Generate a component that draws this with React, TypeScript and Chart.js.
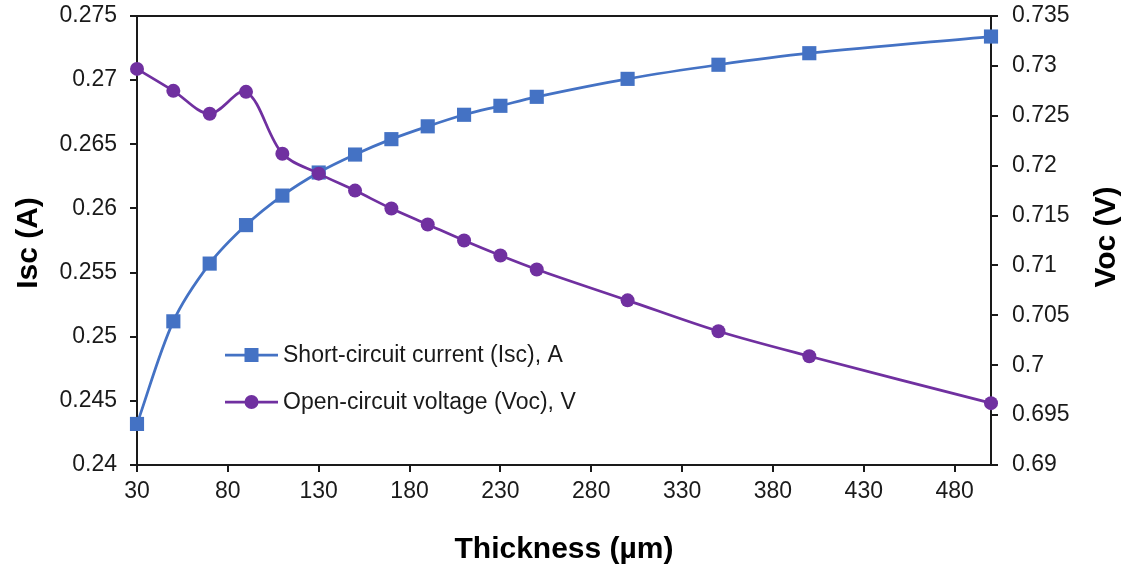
import React, { useEffect, useRef } from 'react';
import { Chart, registerables } from 'chart.js';

Chart.register(...registerables);

// ---- data ----
const thickness = [30, 50, 70, 90, 110, 130, 150, 170, 190, 210, 230, 250, 300, 350, 400, 500];
const iscValues = [0.2432, 0.2512, 0.2557, 0.2587, 0.2610, 0.2628, 0.2642, 0.2654, 0.2664, 0.2673, 0.2680, 0.2687, 0.2701, 0.2712, 0.2721, 0.2734];
const vocValues = [0.7297, 0.7275, 0.7252, 0.7274, 0.7212, 0.7192, 0.7175, 0.7157, 0.7141, 0.7125, 0.7110, 0.7096, 0.7065, 0.7034, 0.7009, 0.6962];

const xTicks = [30, 80, 130, 180, 230, 280, 330, 380, 430, 480];
const iscTicks = [0.24, 0.245, 0.25, 0.255, 0.26, 0.265, 0.27, 0.275];
const vocTicks = [0.69, 0.695, 0.7, 0.705, 0.71, 0.715, 0.72, 0.725, 0.73, 0.735];

const iscLabel = 'Short-circuit current (Isc), A';
const vocLabel = 'Open-circuit voltage (Voc), V';
const xTitle = 'Thickness (µm)';
const yLeftTitle = 'Isc (A)';
const yRightTitle = 'Voc (V)';

// ---- style ----
const FONT = '"Liberation Sans", Arial, Helvetica, sans-serif';
const AXIS = '#1a1a1a';
const TEXT = '#1a1a1a';
const BLUE = '#4472C4';
const PURPLE = '#7030A0';

const fmt = (v: number) => String(+Number(v).toFixed(4));

const decorPlugin = {
  id: 'decor',
  afterDraw(chart: any) {
    const { ctx, chartArea: a } = chart;
    ctx.save();
    // top frame line
    ctx.strokeStyle = AXIS;
    ctx.lineWidth = 2;
    ctx.beginPath();
    ctx.moveTo(a.left - 1, a.top);
    ctx.lineTo(a.right + 1, a.top);
    ctx.stroke();

    // axis titles
    ctx.fillStyle = '#000';
    ctx.font = `bold 30px ${FONT}`;
    ctx.textAlign = 'center';
    ctx.textBaseline = 'middle';
    ctx.fillText(xTitle, (a.left + a.right) / 2, 550);

    ctx.save();
    ctx.translate(29, 243);
    ctx.rotate(-Math.PI / 2);
    ctx.fillText(yLeftTitle, 0, 0);
    ctx.restore();

    ctx.save();
    ctx.translate(1107, 237);
    ctx.rotate(-Math.PI / 2);
    ctx.fillText(yRightTitle, 0, 0);
    ctx.restore();

    // legend
    const rows = [
      { label: iscLabel, color: BLUE, shape: 'rect', y: 355 },
      { label: vocLabel, color: PURPLE, shape: 'circle', y: 402 },
    ];
    ctx.font = `23px ${FONT}`;
    ctx.textAlign = 'left';
    ctx.textBaseline = 'middle';
    rows.forEach((r) => {
      ctx.strokeStyle = r.color;
      ctx.lineWidth = 2.75;
      ctx.beginPath();
      ctx.moveTo(225, r.y);
      ctx.lineTo(278, r.y);
      ctx.stroke();
      ctx.fillStyle = r.color;
      if (r.shape === 'rect') {
        ctx.fillRect(251.5 - 7, r.y - 7, 14, 14);
      } else {
        ctx.beginPath();
        ctx.arc(251.5, r.y, 7, 0, Math.PI * 2);
        ctx.fill();
      }
      ctx.fillStyle = TEXT;
      ctx.fillText(r.label, 283, r.y + 1);
    });
    ctx.restore();
  },
};

export default function App() {
  const ref = useRef<HTMLCanvasElement | null>(null);

  useEffect(() => {
    document.body.style.margin = '0';
    const canvas = ref.current;
    if (!canvas) return;

    const gridCommon = {
      display: true,
      drawOnChartArea: false,
      drawTicks: true,
      tickLength: 7,
      tickColor: AXIS,
      tickWidth: 2,
      color: AXIS,
      lineWidth: 2,
    };
    const tickFont = { family: FONT, size: 23 };

    const chart = new Chart(canvas, {
      type: 'line',
      data: {
        datasets: [
          {
            label: iscLabel,
            data: thickness.map((x, i) => ({ x, y: iscValues[i] })),
            yAxisID: 'y',
            borderColor: BLUE,
            backgroundColor: BLUE,
            borderWidth: 2.75,
            pointStyle: 'rect',
            pointRadius: 10,
            pointBorderWidth: 0,
            pointBackgroundColor: BLUE,
            tension: 0.33,
            clip: false as any,
            order: 2,
          },
          {
            label: vocLabel,
            data: thickness.map((x, i) => ({ x, y: vocValues[i] })),
            yAxisID: 'y1',
            borderColor: PURPLE,
            backgroundColor: PURPLE,
            borderWidth: 2.75,
            pointStyle: 'circle',
            pointRadius: 7,
            pointBorderWidth: 0,
            pointBackgroundColor: PURPLE,
            tension: 0.33,
            clip: false as any,
            order: 1,
          },
        ],
      },
      options: {
        responsive: false,
        animation: false,
        devicePixelRatio: 1,
        layout: { padding: { top: 16, left: 0, right: 0, bottom: 0 } },
        plugins: {
          legend: { display: false },
          tooltip: { enabled: false },
          title: { display: false },
        },
        scales: {
          x: {
            type: 'linear',
            min: 30,
            max: 500,
            grid: gridCommon,
            border: { display: true, color: AXIS, width: 2 },
            ticks: {
              font: tickFont,
              color: TEXT,
              padding: 6,
              autoSkip: false,
              maxRotation: 0,
              callback: (v: any) => fmt(v),
            },
            afterBuildTicks: (s: any) => {
              s.ticks = xTicks.map((value) => ({ value }));
            },
            afterFit: (s: any) => {
              s.height = 106;
              s.paddingLeft = 0;
              s.paddingRight = 0;
            },
          },
          y: {
            type: 'linear',
            position: 'left',
            min: 0.24,
            max: 0.275,
            grid: gridCommon,
            border: { display: true, color: AXIS, width: 2 },
            ticks: {
              font: tickFont,
              color: TEXT,
              padding: 13,
              callback: (v: any) => fmt(v),
            },
            afterBuildTicks: (s: any) => {
              s.ticks = iscTicks.map((value) => ({ value }));
            },
            afterFit: (s: any) => {
              s.width = 137;
              s.paddingTop = 0;
              s.paddingBottom = 0;
            },
          },
          y1: {
            type: 'linear',
            position: 'right',
            min: 0.69,
            max: 0.735,
            grid: gridCommon,
            border: { display: true, color: AXIS, width: 2 },
            ticks: {
              font: tickFont,
              color: TEXT,
              padding: 14,
              callback: (v: any) => fmt(v),
            },
            afterBuildTicks: (s: any) => {
              s.ticks = vocTicks.map((value) => ({ value }));
            },
            afterFit: (s: any) => {
              s.width = 136;
              s.paddingTop = 0;
              s.paddingBottom = 0;
            },
          },
        },
      } as any,
      plugins: [decorPlugin],
    });

    return () => chart.destroy();
  }, []);

  return (
    <div style={{ width: 1127, height: 571, background: '#fff' }}>
      <canvas ref={ref} width={1127} height={571} style={{ display: 'block', width: 1127, height: 571 }} />
    </div>
  );
}
